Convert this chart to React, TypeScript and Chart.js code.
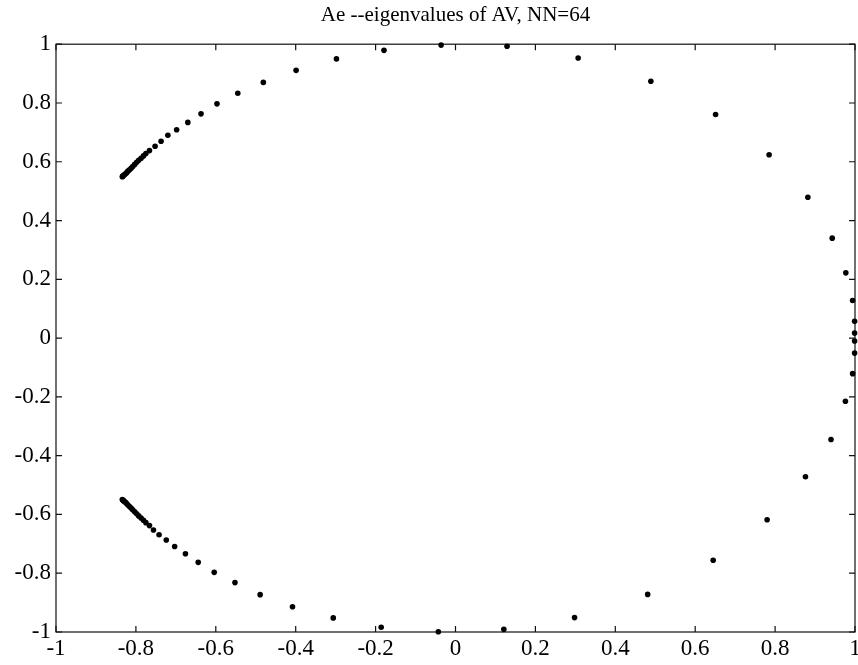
import React, { useEffect, useRef } from 'react';
import { Chart, registerables } from 'chart.js';

Chart.register(...registerables);

const titleText = 'Ae --eigenvalues of AV, NN=64';

const xTickValues = [-1, -0.8, -0.6, -0.4, -0.2, 0, 0.2, 0.4, 0.6, 0.8, 1];
const xTickLabels = ['-1', '-0.8', '-0.6', '-0.4', '-0.2', '0', '0.2', '0.4', '0.6', '0.8', '1'];
const yTickValues = [-1, -0.8, -0.6, -0.4, -0.2, 0, 0.2, 0.4, 0.6, 0.8, 1];
const yTickLabels = ['-1', '-0.8', '-0.6', '-0.4', '-0.2', '0', '0.2', '0.4', '0.6', '0.8', '1'];

// upper cluster (dense), then upper sparse arc, then lower sparse arc, then lower cluster
const eigRe = [
  -0.834, -0.833, -0.831, -0.829, -0.826, -0.823, -0.820, -0.816, -0.812, -0.808, -0.803, -0.798, -0.793, -0.787, -0.781, -0.775, -0.766,
  -0.752, -0.737, -0.720, -0.698, -0.670, -0.637, -0.597, -0.545, -0.481, -0.399, -0.298, -0.179, -0.036, 0.129, 0.307, 0.489, 0.651, 0.785, 0.882, 0.943, 0.977, 0.994, 0.999, 0.999,
  0.999, 0.999, 0.994, 0.976, 0.940, 0.876, 0.780, 0.645, 0.481, 0.298, 0.121, -0.043, -0.186, -0.306, -0.408, -0.489, -0.552, -0.604, -0.644, -0.676, -0.703, -0.724, -0.742, -0.756,
  -0.766, -0.775, -0.781, -0.787, -0.793, -0.798, -0.803, -0.808, -0.812, -0.816, -0.820, -0.823, -0.826, -0.829, -0.831, -0.833, -0.834,
];
const eigIm = [
  0.549, 0.551, 0.553, 0.556, 0.559, 0.563, 0.568, 0.573, 0.578, 0.584, 0.591, 0.598, 0.605, 0.612, 0.620, 0.628, 0.638,
  0.653, 0.670, 0.690, 0.709, 0.734, 0.763, 0.797, 0.833, 0.870, 0.911, 0.950, 0.979, 0.997, 0.993, 0.953, 0.874, 0.761, 0.624, 0.479, 0.340, 0.222, 0.128, 0.057, 0.017,
  -0.010, -0.051, -0.121, -0.215, -0.345, -0.472, -0.618, -0.756, -0.872, -0.951, -0.991, -0.999, -0.984, -0.952, -0.914, -0.873, -0.832, -0.797, -0.763, -0.734, -0.709, -0.687, -0.669, -0.653,
  -0.638, -0.628, -0.620, -0.612, -0.605, -0.598, -0.591, -0.584, -0.578, -0.573, -0.568, -0.563, -0.559, -0.556, -0.553, -0.551, -0.549,
];

const serif = "'Liberation Serif', 'Times New Roman', serif";

export default function App() {
  const ref = useRef<HTMLCanvasElement>(null);

  useEffect(() => {
    if (!ref.current) return;
    const framePlugin = {
      id: 'matlabFrame',
      beforeDatasetsDraw(chart: any) {
        const { ctx, chartArea: a, scales } = chart;
        const tl = 6;
        ctx.save();
        ctx.strokeStyle = '#111';
        ctx.lineWidth = 1.2;
        ctx.strokeRect(a.left, a.top, a.right - a.left, a.bottom - a.top);
        ctx.beginPath();
        scales.x.ticks.forEach((t: any) => {
          const px = scales.x.getPixelForValue(t.value);
          ctx.moveTo(px, a.bottom);
          ctx.lineTo(px, a.bottom - tl);
          ctx.moveTo(px, a.top);
          ctx.lineTo(px, a.top + tl);
        });
        scales.y.ticks.forEach((t: any) => {
          const py = scales.y.getPixelForValue(t.value);
          ctx.moveTo(a.left, py);
          ctx.lineTo(a.left + tl, py);
          ctx.moveTo(a.right, py);
          ctx.lineTo(a.right - tl, py);
        });
        ctx.stroke();
        ctx.restore();
      },
    };

    const chart = new Chart(ref.current, {
      type: 'scatter',
      data: {
        datasets: [
          {
            data: eigRe.map((x, i) => ({ x, y: eigIm[i] })),
            pointRadius: 2.8,
            pointBackgroundColor: '#000',
            pointBorderWidth: 0,
            backgroundColor: '#000',
            borderColor: '#000',
            clip: false as any,
          },
        ],
      },
      options: {
        responsive: false,
        animation: false,
        layout: { padding: { left: 0, right: 3, top: 0, bottom: 0 }, autoPadding: false } as any,
        plugins: {
          legend: { display: false },
          tooltip: { enabled: false },
          title: {
            display: true,
            text: titleText,
            fullSize: false,
            color: '#000',
            font: { family: serif, size: 21, weight: 'normal' as any },
            padding: { top: 3, bottom: 16 },
          },
        },
        scales: {
          x: {
            type: 'linear',
            min: -1,
            max: 1,
            afterBuildTicks: (s: any) => {
              s.ticks = xTickValues.map((v) => ({ value: v }));
            },
            afterFit: (s: any) => {
              s.height = 33;
              s.paddingLeft = 0;
              s.paddingRight = 0;
            },
            ticks: {
              autoSkip: false,
              maxRotation: 0,
              padding: 3,
              color: '#000',
              font: { family: serif, size: 23 },
              callback: (_v: any, i: number) => xTickLabels[i],
            },
            grid: { display: false, drawTicks: false },
            border: { display: false },
          },
          y: {
            type: 'linear',
            min: -1,
            max: 1,
            afterBuildTicks: (s: any) => {
              s.ticks = yTickValues.map((v) => ({ value: v }));
            },
            afterFit: (s: any) => {
              s.width = 56;
              s.paddingTop = 0;
              s.paddingBottom = 0;
            },
            ticks: {
              autoSkip: false,
              padding: 5,
              color: '#000',
              font: { family: serif, size: 23 },
              callback: (_v: any, i: number) => yTickLabels[i],
            },
            grid: { display: false, drawTicks: false },
            border: { display: false },
          },
        },
      },
      plugins: [framePlugin],
    });
    return () => chart.destroy();
  }, []);

  return (
    <div style={{ position: 'fixed', left: 0, top: 0, width: 858, height: 665, background: '#fff' }}>
      <canvas ref={ref} width={858} height={665} style={{ display: 'block' }} />
    </div>
  );
}
